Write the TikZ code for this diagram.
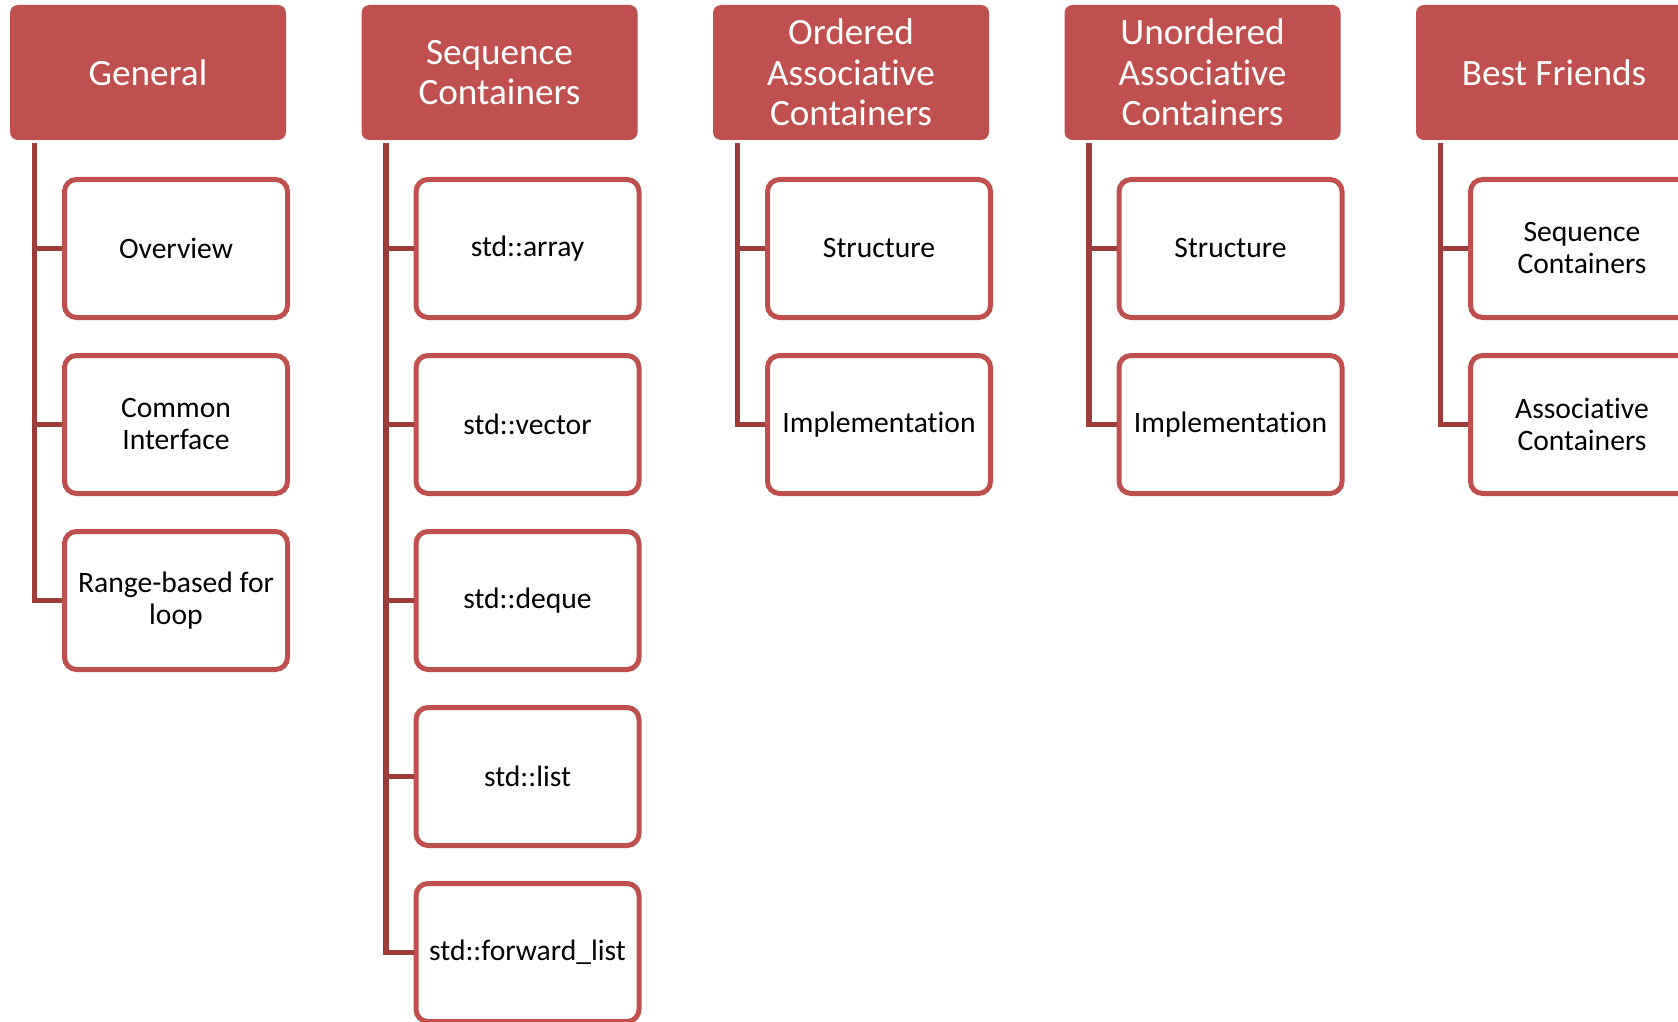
\documentclass[tikz,border=0pt]{standalone}
\usepackage{fontspec}
\setmainfont{Carlito}[Ligatures=NoCommon]
\usepackage{tikz}
\usetikzlibrary{calc}
\usetikzlibrary{scopes}
\definecolor{headred}{RGB}{192,80,77}
\definecolor{stemred}{RGB}{158,60,58}
\tikzset{
every picture/.style={x=0.5pt, y=-0.5pt},
%%%%%%%%%%  Node styles
header/.style={fill=headred, rounded corners=4pt, inner sep=0pt,
               minimum width=138pt, minimum height=67.5pt,
               text=white, align=center, font=\fontsize{18.6}{20.3}\selectfont},
leaf/.style={draw=headred, line width=2.5pt, fill=white, rounded corners=6pt,
             inner sep=0pt, minimum width=111.5pt, minimum height=69pt,
             align=center, font=\fontsize{14.8}{16}\selectfont},
%%%% the stems from header to leaves
stem/.style={draw=stemred, line width=2.8pt},
}

\begin{document}
\begin{tikzpicture}
\useasboundingbox (0,0) rectangle (1678,1022);
\begin{scope}[shift={(0,0)}]
\node[header] (gen) at (148,72.5) {General};
\node[leaf] (gen1) at (176,248.5) {Overview};
\node[leaf] (gen2) at (176,424.5) {Common\\Interface};
\node[leaf] (gen3) at (176,600.5) {Range-based for\\loop};
%% stem down the left side
\foreach \n in {gen1,gen2,gen3}
  \draw[stem] ([xshift=12.5pt,yshift=-1.5pt]gen.south west) |- (\n.west);
\end{scope}
%%%%%%%%%%%%%%%%%%%%%%%%%%%%%%%%%%%%%%%%%%%%%%%%%%%%
\begin{scope}[shift={(351.5,0)}]
\node[header] (seq) at (148,72.5) {Sequence\\Containers};
\node[leaf] (seq1) at (176,248.5) {std::array};
\node[leaf] (seq2) at (176,424.5) {std::vector};
\node[leaf] (seq3) at (176,600.5) {std::deque};
\node[leaf] (seq4) at (176,776.5) {std::list};
\node[leaf] (seq5) at (176,952.5) {std::forward\_list};
%% stem down the left side
\foreach \n in {seq1,seq2,seq3,seq4,seq5}
  \draw[stem] ([xshift=12.5pt,yshift=-1.5pt]seq.south west) |- (\n.west);
\end{scope}
%%%%%%%%%%%%%%%%%%%%%%%%%%%%%%%%%%%%%%%%%%%%%%%%%%%%
\begin{scope}[shift={(703,0)}]
\node[header] (ord) at (148,72.5) {Ordered\\Associative\\Containers};
\node[leaf] (ord1) at (176,248.5) {Structure};
\node[leaf] (ord2) at (176,424.5) {Implementation};
%% stem down the left side
\foreach \n in {ord1,ord2}
  \draw[stem] ([xshift=12.5pt,yshift=-1.5pt]ord.south west) |- (\n.west);
\end{scope}
%%%%%%%%%%%%%%%%%%%%%%%%%%%%%%%%%%%%%%%%%%%%%%%%%%%%
\begin{scope}[shift={(1054.5,0)}]
\node[header] (uno) at (148,72.5) {Unordered\\Associative\\Containers};
\node[leaf] (uno1) at (176,248.5) {Structure};
\node[leaf] (uno2) at (176,424.5) {Implementation};
%% stem down the left side
\foreach \n in {uno1,uno2}
  \draw[stem] ([xshift=12.5pt,yshift=-1.5pt]uno.south west) |- (\n.west);
\end{scope}
%%%%%%%%%%%%%%%%%%%%%%%%%%%%%%%%%%%%%%%%%%%%%%%%%%%%
\begin{scope}[shift={(1406,0)}]
\node[header] (best) at (148,72.5) {Best Friends};
\node[leaf] (best1) at (176,248.5) {Sequence\\Containers};
\node[leaf] (best2) at (176,424.5) {Associative\\Containers};
%% stem down the left side
\foreach \n in {best1,best2}
  \draw[stem] ([xshift=12.5pt,yshift=-1.5pt]best.south west) |- (\n.west);
\end{scope}
\end{tikzpicture}
\end{document}
